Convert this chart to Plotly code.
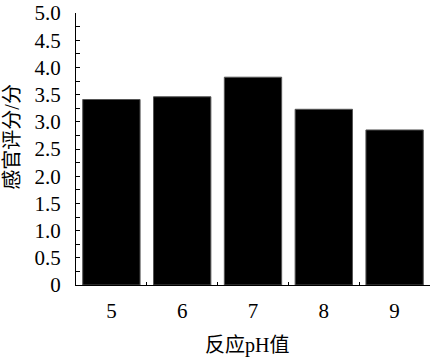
import plotly.graph_objects as go

categories = ["5", "6", "7", "8", "9"]
scores = [3.41, 3.46, 3.82, 3.23, 2.85]
ytick_vals = [0, 0.5, 1.0, 1.5, 2.0, 2.5, 3.0, 3.5, 4.0, 4.5, 5.0]
ytick_text = ["0", "0.5", "1.0", "1.5", "2.0", "2.5", "3.0", "3.5", "4.0", "4.5", "5.0"]
x_title = "反应pH值"
y_title = "感官评分/分"

FONT = "Liberation Serif, Times New Roman, Noto Sans CJK SC, serif"

fig = go.Figure(go.Bar(
    x=categories, y=scores,
    marker=dict(color="black", line=dict(color="#555555", width=1)),
    width=0.81,
))

fig.update_layout(
    width=431, height=359,
    margin=dict(l=76, r=1, t=10, b=74),
    paper_bgcolor="white", plot_bgcolor="white",
    font=dict(family=FONT, size=21, color="black"),
    showlegend=False,
    bargap=0.19,
)
fig.update_xaxes(
    type="category",
    showline=True, linecolor="black", linewidth=1,
    ticks="inside", ticklen=3, tickcolor="black", tickson="boundaries",
    showgrid=False, zeroline=False,
    tickfont=dict(family=FONT, size=21),
    ticklabelstandoff=7,
)
fig.update_yaxes(
    range=[0, 5],
    showline=True, linecolor="black", linewidth=1,
    ticks="inside", ticklen=4, tickcolor="black",
    tickvals=ytick_vals, ticktext=ytick_text,
    minor=dict(dtick=0.25, ticks="inside", ticklen=4, tickcolor="black", showgrid=False),
    showgrid=False, zeroline=False,
    tickfont=dict(family=FONT, size=21),
    ticklabelstandoff=10,
    ticklabeloverflow="allow",
)
fig.add_annotation(
    text=x_title, xref="paper", yref="paper",
    x=(247 - 76) / 354, y=(285 - 346) / 275,
    xanchor="center", yanchor="middle", showarrow=False,
    font=dict(family=FONT, size=20),
)
fig.add_annotation(
    text=y_title, xref="paper", yref="paper", textangle=-90,
    x=(12 - 76) / 354, y=(285 - 135) / 275,
    xanchor="center", yanchor="middle", showarrow=False,
    font=dict(family=FONT, size=20),
)

fig.write_html("out.html")
